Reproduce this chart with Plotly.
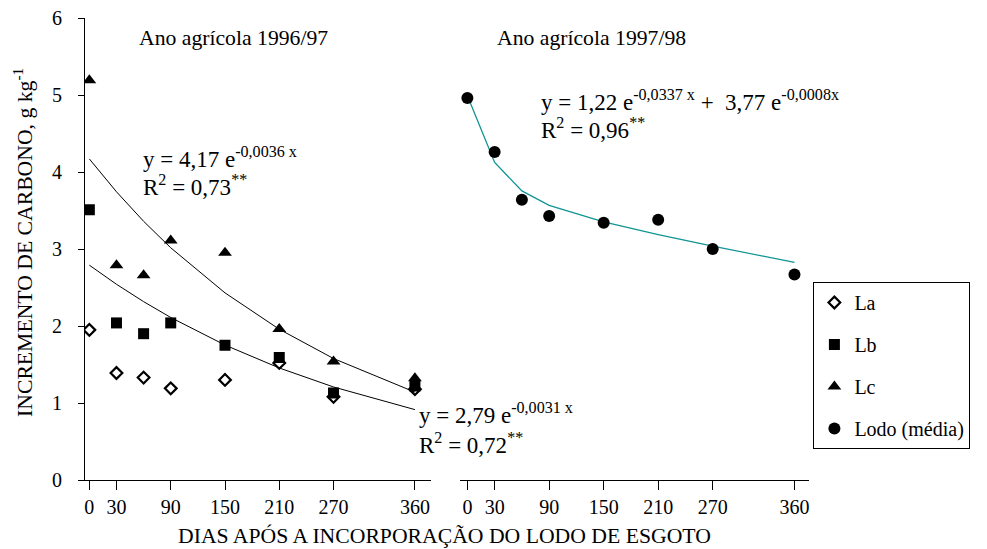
import numpy as np
import plotly.graph_objects as go

# ---- data ----
days = [0, 30, 60, 90, 150, 210, 270, 360]
tick_days = [0, 30, 90, 150, 210, 270, 360]
tick_text = ["0", "30", "90", "150", "210", "270", "360"]

la = [1.95, 1.39, 1.33, 1.19, 1.30, 1.52, 1.08, 1.18]
lb = [3.51, 2.04, 1.90, 2.04, 1.75, 1.59, 1.13, 1.22]
lc = [5.19, 2.79, 2.66, 3.11, 2.95, 1.96, 1.54, 1.32]
lodo = [4.96, 4.26, 3.64, 3.43, 3.34, 3.38, 3.00, 2.67]

# fitted equations printed on the chart
fit_upper = [4.17, -0.0036]
fit_lower = [2.79, -0.0031]
fit_lodo = [1.22, -0.0337, 3.77, -0.0008]

FONT = "Liberation Serif"
x = np.array(days, dtype=float)
y_upper = fit_upper[0] * np.exp(fit_upper[1] * x)
y_lower = fit_lower[0] * np.exp(fit_lower[1] * x)
y_lodo = fit_lodo[0] * np.exp(fit_lodo[1] * x) + fit_lodo[2] * np.exp(fit_lodo[3] * x)

fig = go.Figure()

# fitted lines
fig.add_trace(go.Scatter(x=days, y=y_upper, mode="lines", line=dict(color="black", width=1),
                         showlegend=False, hoverinfo="skip", xaxis="x", yaxis="y"))
fig.add_trace(go.Scatter(x=days, y=y_lower, mode="lines", line=dict(color="black", width=1),
                         showlegend=False, hoverinfo="skip", xaxis="x", yaxis="y"))
fig.add_trace(go.Scatter(x=days, y=y_lodo, mode="lines", line=dict(color="#119494", width=1.3),
                         showlegend=False, hoverinfo="skip", xaxis="x2", yaxis="y2"))

# points
fig.add_trace(go.Scatter(x=days, y=la, mode="markers", name="La", legendgroup="a",
                         marker=dict(symbol="diamond-open", size=9, color="black",
                                     line=dict(color="black", width=2.2)),
                         xaxis="x", yaxis="y"))
fig.add_trace(go.Scatter(x=days, y=lb, mode="markers", name="Lb", legendgroup="b",
                         marker=dict(symbol="square", size=11, color="black"),
                         xaxis="x", yaxis="y"))
fig.add_trace(go.Scatter(x=days, y=lc, mode="markers", name="Lc", legendgroup="c",
                         marker=dict(symbol="triangle-up", size=12, color="black"),
                         xaxis="x", yaxis="y"))
fig.add_trace(go.Scatter(x=days, y=lodo, mode="markers", name="Lodo (média)", legendgroup="d",
                         marker=dict(symbol="circle", size=12, color="black"),
                         xaxis="x2", yaxis="y2"))

# the page places the figure 8px from the top-left corner (default body margin)
OFF = 8
W, H = 987 - OFF, 549 - OFF
ml, mt = 85 - OFF, 18 - OFF
mb = H - (480 - OFF)
mr = W - (808.6 - OFF)
pw = W - ml - mr
ph = H - mt - mb

def px_x(p):
    return (p - OFF - ml) / pw

def px_y(p):
    return (H - mb - (p - OFF)) / ph

axis_common = dict(showline=True, linecolor="black", linewidth=1, ticks="outside",
                   tickcolor="black", tickwidth=1, showgrid=False, zeroline=False,
                   automargin=False, ticklabeloverflow="allow",
                   tickfont=dict(family=FONT, size=20, color="black"))

fig.update_layout(
    width=W, height=H,
    margin=dict(l=ml, r=mr, t=mt, b=mb, autoexpand=False),
    paper_bgcolor="white", plot_bgcolor="white",
    font=dict(family=FONT, size=20, color="black"),
    xaxis=dict(domain=[0, px_x(431)], range=[-4.8, 378], tickvals=tick_days, ticktext=tick_text,
               ticklen=9, anchor="y", **axis_common),
    xaxis2=dict(domain=[px_x(460), 1], range=[-7.9, 376], tickvals=tick_days, ticktext=tick_text,
                ticklen=9, anchor="y2", **axis_common),
    yaxis=dict(domain=[0, 1], range=[0, 6], tickvals=[0, 1, 2, 3, 4, 5, 6], ticklen=6,
               anchor="x", ticklabelstandoff=12, **axis_common),
    yaxis2=dict(domain=[0, 1], range=[0, 6], visible=False, anchor="x2"),
    legend=dict(x=px_x(813), y=px_y(282), xanchor="left", yanchor="top",
                bordercolor="black", borderwidth=1, bgcolor="white",
                font=dict(family=FONT, size=20, color="black"), tracegroupgap=13,
                itemwidth=30, entrywidth=165),
    showlegend=True,
)

EQ = 23
TT = 21.7
ann = [
    dict(text="Ano agrícola 1996/97", x=px_x(137), y=px_y(38), xanchor="left", size=TT),
    dict(text="Ano agrícola 1997/98", x=px_x(495), y=px_y(38), xanchor="left", size=TT),
    dict(text="y = 4,17 e<sup>-0,0036 x</sup>", x=px_x(141), y=px_y(157), xanchor="left", size=EQ),
    dict(text="R<sup>2</sup> = 0,73<sup>**</sup>", x=px_x(141), y=px_y(185), xanchor="left", size=EQ),
    dict(text="y = 2,79 e<sup>-0,0031 x</sup>", x=px_x(417), y=px_y(413), xanchor="left", size=EQ),
    dict(text="R<sup>2</sup> = 0,72<sup>**</sup>", x=px_x(417), y=px_y(443), xanchor="left", size=EQ),
    dict(text="y = 1,22 e<sup>-0,0337 x</sup> +  3,77 e<sup>-0,0008x</sup>", x=px_x(539), y=px_y(100),
         xanchor="left", size=EQ),
    dict(text="R<sup>2</sup> = 0,96<sup>**</sup>", x=px_x(539), y=px_y(128), xanchor="left", size=EQ),
    dict(text="DIAS APÓS A INCORPORAÇÃO DO LODO DE ESGOTO", x=px_x(444), y=px_y(536),
         xanchor="center", size=TT),
    dict(text="INCREMENTO DE CARBONO, g kg<sup>-1</sup>", x=px_x(23), y=px_y(242), xanchor="center",
         textangle=-90, size=TT),
]
for a in ann:
    s = a.pop("size")
    fig.add_annotation(xref="paper", yref="paper", yanchor="middle", showarrow=False,
                       font=dict(family=FONT, size=s, color="black"), **a)

fig.write_html("out.html")
